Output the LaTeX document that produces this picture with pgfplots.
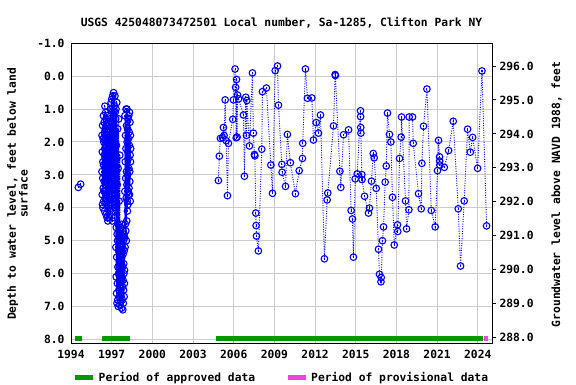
\documentclass[border=0pt]{standalone}
\usepackage{pgfplots}
\pgfplotsset{compat=1.18}
\usepackage{fontspec}
\newfontfamily\usgsfont{DejaVu Sans Mono}
\newcommand\uf{\usgsfont\bfseries\fontsize{11.3}{11.6}\selectfont}
\definecolor{appr}{RGB}{0,153,0}
\definecolor{prov}{RGB}{238,68,221}
\definecolor{gridgray}{RGB}{204,204,204}
\definecolor{ptblue}{RGB}{0,0,255}
\pgfdeclareplotmark{usgs}{%
  \pgfpathcircle{\pgfpointorigin}{\pgfplotmarksize}\pgfusepathqstroke
  \pgfpathmoveto{\pgfqpoint{0pt}{-1.1pt}}\pgfpathlineto{\pgfqpoint{0pt}{1.1pt}}\pgfusepathqstroke}
\pgfplotsset{gwdata/.style={ptblue, dash pattern=on 1pt off 1.4pt, line width=0.9pt,
  mark=usgs, mark size=3.3pt, mark options={solid, line width=1.1pt, ptblue, fill=none}}}

\pgfplotstableread{
year depth
1994.54 3.38
1994.71 3.28
}\early

\pgfplotstableread{
year depth
1996.28 2.9
1996.29 1.8
1996.30 3.6
1996.31 2.3
1996.32 3.9
1996.33 1.5
1996.34 3.1
1996.35 2.6
1996.36 4.0
1996.37 1.9
1996.38 3.4
1996.39 1.2
1996.40 2.7
1996.41 3.8
1996.42 2.0
1996.43 3.5
1996.44 1.4
1996.45 3.2
1996.46 2.4
1996.47 1.7
1996.48 4.1
1996.49 2.2
1996.50 0.91
1996.51 3.0
1996.52 1.6
1996.53 3.7
1996.54 2.5
1996.55 1.1
1996.56 3.3
1996.57 2.1
1996.58 4.2
1996.59 1.3
1996.60 2.8
1996.61 3.6
1996.62 1.8
1996.63 3.9
1996.64 2.3
1996.65 1.5
1996.66 4.3
1996.67 2.6
1996.68 3.1
1996.69 1.2
1996.70 3.8
1996.71 2.0
1996.72 4.4
1996.73 1.7
1996.74 3.4
1996.75 2.4
1996.76 4.0
1996.77 1.4
1996.78 2.9
1996.79 3.6
1996.80 1.9
1996.81 4.3
1996.82 2.2
1996.83 3.2
1996.84 1.3
1996.85 2.7
1996.86 3.9
1996.87 1.6
1996.88 4.2
1996.89 2.5
1996.90 3.5
1996.91 1.0
1996.92 3.0
1996.93 2.1
1996.94 3.7
1996.95 1.8
1996.96 0.8
1996.97 2.6
1996.98 1.4
1996.99 3.9
1997.00 0.7
1997.01 2.2
1997.02 3.3
1997.03 1.0
1997.04 4.4
1997.05 1.9
1997.06 2.9
1997.07 0.6
1997.08 3.6
1997.09 1.6
1997.10 2.4
1997.11 4.1
1997.12 1.2
1997.13 3.0
1997.14 0.5
1997.15 2.0
1997.16 3.8
1997.17 1.5
1997.18 2.7
1997.19 0.9
1997.20 4.3
1997.21 1.8
1997.22 3.4
1997.23 2.3
1997.24 0.6
1997.25 3.7
1997.26 1.1
1997.27 2.5
1997.28 4.0
1997.29 1.3
1997.30 3.1
1997.31 5.2
1997.32 1.0
1997.33 6.1
1997.34 4.6
1997.35 2.1
1997.36 6.6
1997.37 5.5
1997.38 0.8
1997.39 6.9
1997.40 4.8
1997.41 3.3
1997.42 6.3
1997.43 5.0
1997.44 1.6
1997.45 6.8
1997.46 5.8
1997.47 4.5
1997.48 2.8
1997.49 7.0
1997.50 5.3
1997.51 6.0
1997.52 1.3
1997.53 6.5
1997.54 4.9
1997.55 3.8
1997.56 6.7
1997.57 5.6
1997.58 6.2
1997.59 4.7
1997.60 2.4
1997.61 6.95
1997.62 5.9
1997.63 5.1
1997.64 6.4
1997.65 4.8
1997.66 6.85
1997.67 5.4
1997.68 6.0
1997.69 4.6
1997.70 6.6
1997.71 5.7
1997.72 5.0
1997.73 7.05
1997.74 4.5
1997.75 5.5
1997.76 6.1
1997.77 4.9
1997.78 6.8
1997.79 5.2
1997.80 6.4
1997.81 5.8
1997.82 7.1
1997.83 4.7
1997.84 6.2
1997.85 5.4
1997.86 6.9
1997.87 5.0
1997.88 6.5
1997.89 5.7
1997.90 6.0
1997.91 4.8
1997.92 6.7
1997.93 5.3
1997.94 6.3
1997.95 5.9
1997.96 4.9
1997.97 3.5
1997.98 1.2
1997.99 5.2
1998.00 2.6
1998.01 4.5
1998.02 1.8
1998.03 3.1
1998.04 4.7
1998.05 2.2
1998.06 1.0
1998.07 3.7
1998.08 5.0
1998.09 2.9
1998.10 1.5
1998.11 4.4
1998.12 3.3
1998.13 1.0
1998.14 2.0
1998.15 3.8
1998.16 4.1
1998.17 1.6
1998.18 3.0
1998.19 2.3
1998.20 3.9
1998.21 1.3
1998.22 3.5
1998.23 2.5
1998.24 1.9
1998.25 3.6
1998.26 1.2
1998.27 2.8
1998.28 3.4
1998.29 1.7
1998.30 2.1
1998.31 3.6
1998.32 1.1
1998.33 2.9
1998.34 3.2
1998.35 1.4
1998.36 2.4
1998.37 3.8
1998.38 1.8
1998.39 2.6
1998.40 2.2
}\cluster

\pgfplotstableread{
year depth
2004.87 3.17
2004.94 2.43
2005.02 1.89
2005.17 1.87
2005.24 1.56
2005.29 1.80
2005.37 0.72
2005.44 1.96
2005.54 3.63
2005.61 2.04
2005.93 1.31
2005.98 0.72
2006.10 -0.22
2006.14 0.34
2006.18 1.87
2006.21 0.10
2006.25 1.85
2006.28 0.57
2006.36 0.69
2006.72 1.18
2006.79 3.04
2006.89 0.64
2006.94 1.80
2006.97 0.74
2007.16 2.12
2007.38 -0.10
2007.45 1.73
2007.53 2.38
2007.56 2.42
2007.63 4.16
2007.65 4.54
2007.68 4.86
2007.82 5.31
2008.07 2.22
2008.12 0.47
2008.41 0.36
2008.74 2.70
2008.86 3.56
2009.06 -0.17
2009.23 -0.31
2009.30 0.88
2009.55 2.68
2009.57 2.92
2009.82 3.35
2009.96 1.77
2010.18 2.63
2010.55 3.57
2010.83 2.87
2011.07 2.50
2011.09 2.04
2011.29 -0.22
2011.44 0.67
2011.76 0.66
2011.88 1.94
2012.08 1.41
2012.25 1.73
2012.40 1.18
2012.69 5.55
2012.89 3.76
2012.94 3.55
2013.36 1.51
2013.48 -0.05
2013.50 -0.02
2013.83 2.89
2013.90 3.38
2014.10 1.78
2014.47 1.63
2014.66 4.08
2014.76 4.34
2014.83 5.50
2014.96 3.12
2015.11 2.97
2015.35 1.05
2015.36 1.23
2015.37 1.56
2015.38 1.73
2015.45 2.99
2015.46 3.14
2015.65 3.65
2015.94 4.16
2016.01 4.01
2016.16 3.19
2016.29 2.35
2016.36 2.48
2016.51 3.41
2016.68 5.26
2016.75 6.02
2016.86 6.25
2016.88 6.12
2016.97 5.00
2017.05 4.58
2017.17 3.22
2017.25 2.73
2017.34 1.12
2017.49 1.77
2017.59 2.00
2017.71 3.68
2017.84 5.13
2018.08 4.52
2018.10 4.72
2018.23 2.50
2018.35 1.85
2018.38 1.24
2018.67 3.79
2018.75 4.64
2018.92 4.06
2018.94 1.24
2019.19 1.24
2019.24 2.04
2019.63 3.57
2019.83 4.03
2019.88 2.65
2020.00 1.52
2020.25 0.39
2020.57 4.08
2020.86 4.58
2021.03 2.87
2021.11 1.95
2021.18 2.45
2021.19 2.58
2021.20 2.70
2021.53 2.77
2021.85 2.26
2022.19 1.37
2022.56 4.03
2022.73 5.77
2023.00 3.79
2023.25 1.61
2023.45 2.31
2023.62 1.86
2023.99 2.80
2024.31 -0.16
2024.65 4.55
}\recent

\begin{document}
\begin{tikzpicture}
\path[use as bounding box] (0pt,0pt) rectangle (576pt,384pt);
\begin{axis}[
  at={(71pt,41pt)}, anchor=south west,
  width=421pt, height=299.7pt, scale only axis,
  xmin=1994, xmax=2025.05, ymin=-1, ymax=8.11, y dir=reverse,
  xtick={1994,1997,2000,2003,2006,2009,2012,2015,2018,2021,2024},
  xticklabels={1994,1997,2000,2003,2006,2009,2012,2015,2018,2021,2024},
  ytick={-1,0,1,2,3,4,5,6,7,8},
  yticklabels={-1.0,0.0,1.0,2.0,3.0,4.0,5.0,6.0,7.0,8.0},
  grid=major, major grid style={gridgray, line width=1pt},
  major tick length=0pt,
  axis line style={black, line width=1pt},
  ticklabel style={font=\uf},
  yticklabel style={xshift=-3pt},
  xticklabel style={yshift=-4pt},
]
\addplot[appr, line width=4.5pt, no marks, solid] coordinates {(1994.29,7.97) (1994.81,7.97)};
\addplot[appr, line width=4.5pt, no marks, solid] coordinates {(1996.29,7.97) (1998.35,7.97)};
\addplot[appr, line width=4.5pt, no marks, solid] coordinates {(2004.69,7.97) (2024.38,7.97)};
\addplot[prov, line width=4.5pt, no marks, solid] coordinates {(2024.45,7.97) (2024.72,7.97)};
\addplot[gwdata] table[x=year,y=depth] {\early};
\addplot[gwdata] table[x=year,y=depth] {\cluster};
\addplot[gwdata] table[x=year,y=depth] {\recent};
\end{axis}
\begin{axis}[
  at={(71pt,41pt)}, anchor=south west,
  width=421pt, height=299.7pt, scale only axis,
  xmin=1994, xmax=2025.05, ymin=287.84, ymax=296.67,
  axis y line*=right, axis x line=none,
  ytick={288,289,290,291,292,293,294,295,296},
  yticklabels={288.0,289.0,290.0,291.0,292.0,293.0,294.0,295.0,296.0},
  tick align=outside, major tick length=4pt,
  ytick style={black, line width=1pt},
  axis line style={black, line width=1pt},
  ticklabel style={font=\uf},
]
\end{axis}
\node[font=\uf] at (281.5pt,361.2pt) {USGS 425048073472501 Local number, Sa-1285, Clifton Park NY};
\node[font=\uf, rotate=90, align=center] at (17.5pt,190pt) {Depth to water level, feet below land\\surface};
\node[font=\uf, rotate=90] at (556.7pt,189.5pt) {Groundwater level above NAVD 1988, feet};
\draw[appr, line width=5pt] (75pt,7pt) -- (92.6pt,7pt);
\node[font=\uf, anchor=base west, inner sep=0pt] at (98.5pt,3pt) {Period of approved data};
\draw[prov, line width=5pt] (287.7pt,7pt) -- (305.7pt,7pt);
\node[font=\uf, anchor=base west, inner sep=0pt] at (311pt,3pt) {Period of provisional data};
\end{tikzpicture}
\end{document}
